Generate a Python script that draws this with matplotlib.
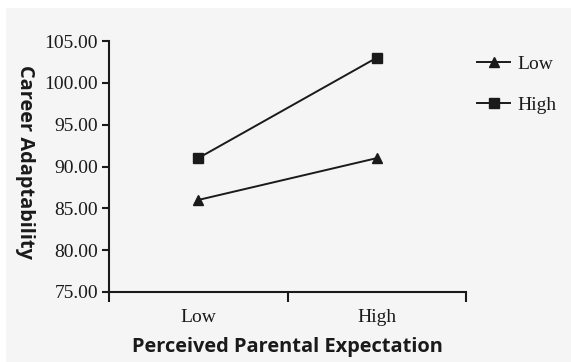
import matplotlib
matplotlib.use("Agg")
import matplotlib.pyplot as plt
from matplotlib.patches import Rectangle

# data
categories = ["Low", "High"]
low_group = [86.0, 91.0]
high_group = [91.0, 103.0]
series_labels = ["Low", "High"]
yticks = [75, 80, 85, 90, 95, 100, 105]

serif = "Liberation Serif"
sans = "Open Sans"
ink = "#1a1a1a"

fig = plt.figure(figsize=(5.71, 3.62), dpi=100, facecolor="white")
# light grey panel behind everything
fig.patches.append(Rectangle((6 / 571, 0), 1, 1 - 8 / 362, transform=fig.transFigure,
                             facecolor="#f5f5f5", edgecolor="none", zorder=-5))

ax = fig.add_axes([109 / 571, 70 / 362, (466 - 109) / 571, (292 - 41) / 362])
ax.patch.set_alpha(0)

xpos = [0.5, 1.5]
ax.plot(xpos, low_group, color=ink, lw=1.4, marker="^", ms=6.5, label=series_labels[0])
ax.plot(xpos, high_group, color=ink, lw=1.4, marker="s", ms=6.5, label=series_labels[1])

ax.set_xlim(0, 2)
ax.set_ylim(75, 105)
ax.set_yticks(yticks)
ax.set_yticklabels(["%.2f" % v for v in yticks], fontfamily=serif, fontsize=14, color=ink)
ax.set_xticks([0, 1, 2])
ax.set_xticklabels([])
ax.set_xticks(xpos, minor=True)
ax.set_xticklabels(categories, minor=True, fontfamily=serif, fontsize=14, color=ink)
ax.tick_params(axis="x", which="minor", length=0, pad=12)
ax.tick_params(axis="x", which="major", length=7, width=1.5, color=ink)
ax.tick_params(axis="y", length=5, width=1.5, color=ink, pad=3)

for s in ["top", "right"]:
    ax.spines[s].set_visible(False)
for s in ["left", "bottom"]:
    ax.spines[s].set_linewidth(1.5)
    ax.spines[s].set_color(ink)

ax.set_xlabel("Perceived Parental Expectation", fontfamily=sans, fontweight="bold",
              fontsize=14.4, color=ink, labelpad=8)
fig.text(25 / 571, 1 - 162 / 362, "Career Adaptability", rotation=-90, ha="center",
         va="center", fontfamily=sans, fontweight="bold", fontsize=14.4, color=ink)

leg = fig.legend(loc="upper left", bbox_to_anchor=(477 / 571, 1 - 55 / 362),
                 bbox_transform=fig.transFigure, frameon=False,
                 prop={"family": serif, "size": 14}, handlelength=1.7,
                 labelspacing=1.2, handletextpad=0.4, borderpad=0, borderaxespad=0)
for t in leg.get_texts():
    t.set_color(ink)

fig.savefig("out.png", dpi=100, facecolor="white")
